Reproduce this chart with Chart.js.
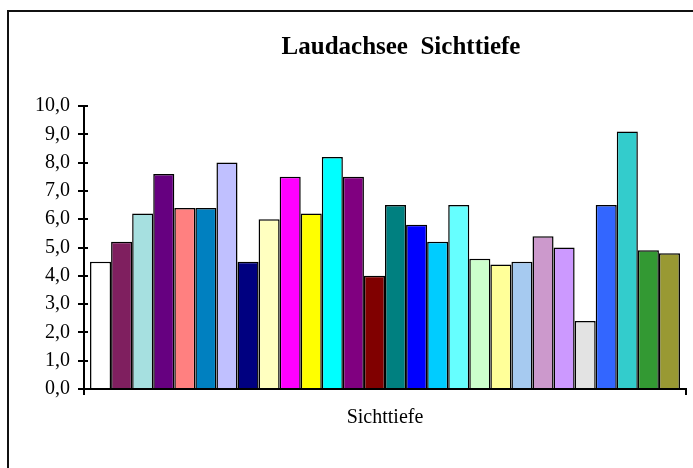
<!DOCTYPE html>
<html>
<head>
<meta charset="utf-8">
<script src="https://cdn.jsdelivr.net/npm/chart.js@4/dist/chart.umd.min.js"></script>
<style>
  html,body{margin:0;padding:0;background:#fff;overflow:hidden;}
  #wrap{position:relative;width:693px;height:468px;}
  #frame{position:absolute;left:7px;top:10px;width:700px;height:470px;border-top:2px solid #111;border-left:2px solid #111;}
  canvas{position:absolute;left:0;top:0;}
</style>
</head>
<body>
<div id="wrap">
  <div id="frame"></div>
  <canvas id="c" width="693" height="468"></canvas>
</div>
<script>
const chartTitle = 'Laudachsee  Sichttiefe';
const categories = ['Sichttiefe'];
// Sichttiefe in m, one bar per measurement
const depths = [4.5, 5.2, 6.2, 7.6, 6.4, 6.4, 8.0, 4.5, 6.0, 7.5, 6.2, 8.2, 7.5, 4.0,
                6.5, 5.8, 5.2, 6.5, 4.6, 4.4, 4.5, 5.4, 5.0, 2.4, 6.5, 9.1, 4.9, 4.8];
const barColors = ['#ffffff','#7f1f5f','#a6e0e0','#660080','#ff8080','#0080c0','#c0c0ff','#000080',
                   '#ffffc0','#ff00ff','#ffff00','#00ffff','#800080','#800000','#008080','#0000ff',
                   '#00ccff','#66ffff','#ccffcc','#ffff99','#a6caf0','#cc99cc','#cc99ff','#e3e3e3',
                   '#3366ff','#33cccc','#339933','#999933'];
const yTicks = [0,1,2,3,4,5,6,7,8,9,10];

const fmt = (v)=>v.toFixed(1).replace('.', ',');

const datasets = depths.map((v,i)=>({
  label: 'Messung ' + (i+1),
  data: [v],
  backgroundColor: barColors[i],
  borderColor: '#000',
  borderWidth: 1.5,
  barPercentage: 1,
  categoryPercentage: 0.98
}));

// title sits right of centre in the original sheet, draw it ourselves
const titlePlugin = {
  id: 'sheetTitle',
  afterDraw(chart){
    const ctx = chart.ctx;
    ctx.save();
    ctx.font = 'bold 25px "Liberation Serif", serif';
    ctx.fillStyle = '#000';
    ctx.textAlign = 'center';
    ctx.textBaseline = 'alphabetic';
    ctx.fillText(chartTitle, 401, 54);
    ctx.restore();
  }
};

// y ticks in the original cross the axis line
const crossTicks = {
  id: 'crossTicks',
  afterDraw(chart){
    const y = chart.scales.y, ctx = chart.ctx, x0 = chart.chartArea.left;
    ctx.save();
    ctx.strokeStyle = '#000'; ctx.lineWidth = 2;
    y.ticks.forEach(t=>{
      const py = Math.round(y.getPixelForValue(t.value));
      ctx.beginPath(); ctx.moveTo(x0, py); ctx.lineTo(x0 + 4, py); ctx.stroke();
    });
    ctx.restore();
  }
};

new Chart(document.getElementById('c'), {
  type: 'bar',
  data: { labels: categories, datasets },
  plugins: [titlePlugin, crossTicks],
  options: {
    responsive: false,
    animation: false,
    layout: { padding: { left: 0, right: 7, top: 106, bottom: 27 } },
    plugins: {
      legend: { display: false },
      tooltip: { enabled: false },
      title: { display: false }
    },
    scales: {
      x: {
        grid: { display: true, drawOnChartArea: false, drawTicks: true, tickLength: 6, color: '#000', lineWidth: 2 },
        border: { display: true, color: '#000', width: 2 },
        ticks: { color: '#000', padding: 11, font: { family: '"Liberation Serif", serif', size: 20 } }
      },
      y: {
        min: 0, max: 10,
        afterBuildTicks: (s)=>{ s.ticks = yTicks.map(v=>({value:v})); },
        afterFit: (s)=>{ s.width = 84; },
        grid: { display: true, drawOnChartArea: false, drawTicks: true, tickLength: 6, color: '#000', lineWidth: 2 },
        border: { display: true, color: '#000', width: 2 },
        ticks: { color: '#000', padding: 8, callback: (v)=>fmt(v), font: { family: '"Liberation Serif", serif', size: 20 } }
      }
    }
  }
});
</script>
</body>
</html>
